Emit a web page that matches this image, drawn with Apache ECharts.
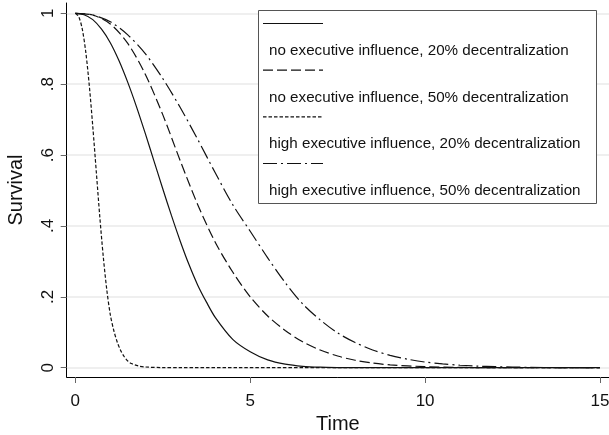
<!DOCTYPE html>
<html><head><meta charset="utf-8">
<script src="https://cdn.jsdelivr.net/npm/echarts@6/dist/echarts.min.js"></script>
<style>html,body{margin:0;padding:0;background:#fff}#c{width:609px;height:435px}</style>
</head><body><div id="c"></div>
<script>
const seriesNames = [
  'no executive influence, 20% decentralization',
  'no executive influence, 50% decentralization',
  'high executive influence, 20% decentralization',
  'high executive influence, 50% decentralization'
];
const timesNo20 = [0,0.25,0.5,0.75,1,1.25,1.5,1.75,2,2.25,2.5,2.75,3,3.25,3.5,3.75,4,4.5,5,5.5,6,6.5,7,7.5,8,9,10,12,15];
const survNo20  = [1,0.996,0.982,0.955,0.917,0.866,0.805,0.736,0.661,0.583,0.505,0.429,0.357,0.291,0.233,0.185,0.142,0.08,0.045,0.022,0.01,0.004,0.0015,0.0005,0.0001,0,0,0,0];
const timesNo50 = [0,0.5,1,1.5,2,2.5,3,3.5,4,4.5,5,5.5,6,6.5,7,7.5,8,8.5,9,10,11,12,15];
const survNo50  = [1,0.995,0.97,0.915,0.828,0.714,0.584,0.46,0.354,0.27,0.2,0.146,0.105,0.073,0.05,0.033,0.021,0.013,0.008,0.003,0.001,0.0003,0];
const timesHigh20 = [0,0.1,0.2,0.3,0.4,0.5,0.6,0.7,0.8,0.9,1,1.1,1.2,1.3,1.4,1.5,1.6,1.8,2,2.5,3,15];
const survHigh20  = [1,0.99,0.955,0.89,0.796,0.68,0.553,0.426,0.313,0.22,0.15,0.105,0.072,0.048,0.031,0.019,0.012,0.005,0.002,0.0003,0,0];
const timesHigh50 = [0,0.5,1,1.5,2,2.5,3,3.5,4,4.5,5,5.5,6,6.5,7,7.5,8,8.5,9,9.5,10,10.5,11,11.5,12,13,14,15];
const survHigh50  = [1,0.995,0.976,0.939,0.886,0.816,0.734,0.644,0.55,0.46,0.385,0.31,0.24,0.18,0.135,0.098,0.071,0.05,0.035,0.024,0.016,0.011,0.007,0.0045,0.003,0.001,0.0003,0];
const xTicks = [0,5,10,15];
const yTicks = [0,0.2,0.4,0.6,0.8,1];
const yTickLabels = ['0','.2','.4','.6','.8','1'];

const FONT = '"Liberation Sans", Arial, sans-serif';
const dashStyles = ['solid',[10,4],[3.5,2],[14,4,2,4]];
const allTimes = [timesNo20,timesNo50,timesHigh20,timesHigh50];
const allSurv = [survNo20,survNo50,survHigh20,survHigh50];

const chart = echarts.init(document.getElementById('c'), null, {renderer:'canvas'});
const series = seriesNames.map((n,i)=>({
  name:n, type:'line', showSymbol:false, smooth:0.3,
  data: allTimes[i].map((t,j)=>[t, allSurv[i][j]]),
  lineStyle:{color:'#111', width:1.2, type: dashStyles[i]},
  itemStyle:{color:'#111'}, z:3
}));

// legend built as graphic (symbol above text, Stata style)
const legendEls = [{
  type:'rect', shape:{x:258.5,y:10.5,width:338,height:193}, style:{fill:'#fff',stroke:'#555',lineWidth:1}, z:10
}];
seriesNames.forEach((n,i)=>{
  const y0 = 23.5 + i*46.67;
  legendEls.push({type:'line', shape:{x1:263,y1:y0,x2:323,y2:y0},
    style:{stroke:'#111', lineWidth:1.2, lineDash: dashStyles[i]==='solid'?null:dashStyles[i]}, z:11});
  legendEls.push({type:'text', x:269, y:y0+27.3,
    style:{text:n, fill:'#111', font:'15.2px ' + FONT, textVerticalAlign:'middle', textAlign:'left'}, z:11});
});

chart.setOption({
  animation:false,
  backgroundColor:'#fff',
  textStyle:{fontFamily:FONT},
  grid:{left:66.7, right:0, top:3, bottom:58, containLabel:false, outerBoundsMode:'none'},
  xAxis:{
    type:'value', min:-0.246, max:15.257,
    axisLine:{show:true, onZero:false, lineStyle:{color:'#000', width:1}},
    axisTick:{show:true, customValues:xTicks, length:6, lineStyle:{color:'#666', width:1}},
    axisLabel:{customValues:xTicks, fontSize:17, color:'#111', margin:16, fontFamily:FONT},
    splitLine:{show:false},
    name:'Time', nameLocation:'middle', nameGap:36,
    nameTextStyle:{fontSize:20, color:'#111', fontFamily:FONT}
  },
  yAxis:{
    type:'value', min:-0.0262, max:1.029,
    axisLine:{show:true, onZero:false, lineStyle:{color:'#000', width:1}},
    axisTick:{show:true, customValues:yTicks, length:6, lineStyle:{color:'#666', width:1}},
    axisLabel:{customValues:yTicks, rotate:90, fontSize:17, color:'#111', margin:10, fontFamily:FONT,
      formatter:(v)=>yTickLabels[Math.round(v*5)]},
    splitLine:{show:true, lineStyle:{color:'#eaeaea', width:1.5}},
    name:'Survival', nameLocation:'middle', nameGap:40,
    nameTextStyle:{fontSize:20, color:'#111', fontFamily:FONT}
  },
  series: series,
  graphic: legendEls
});
</script></body></html>
